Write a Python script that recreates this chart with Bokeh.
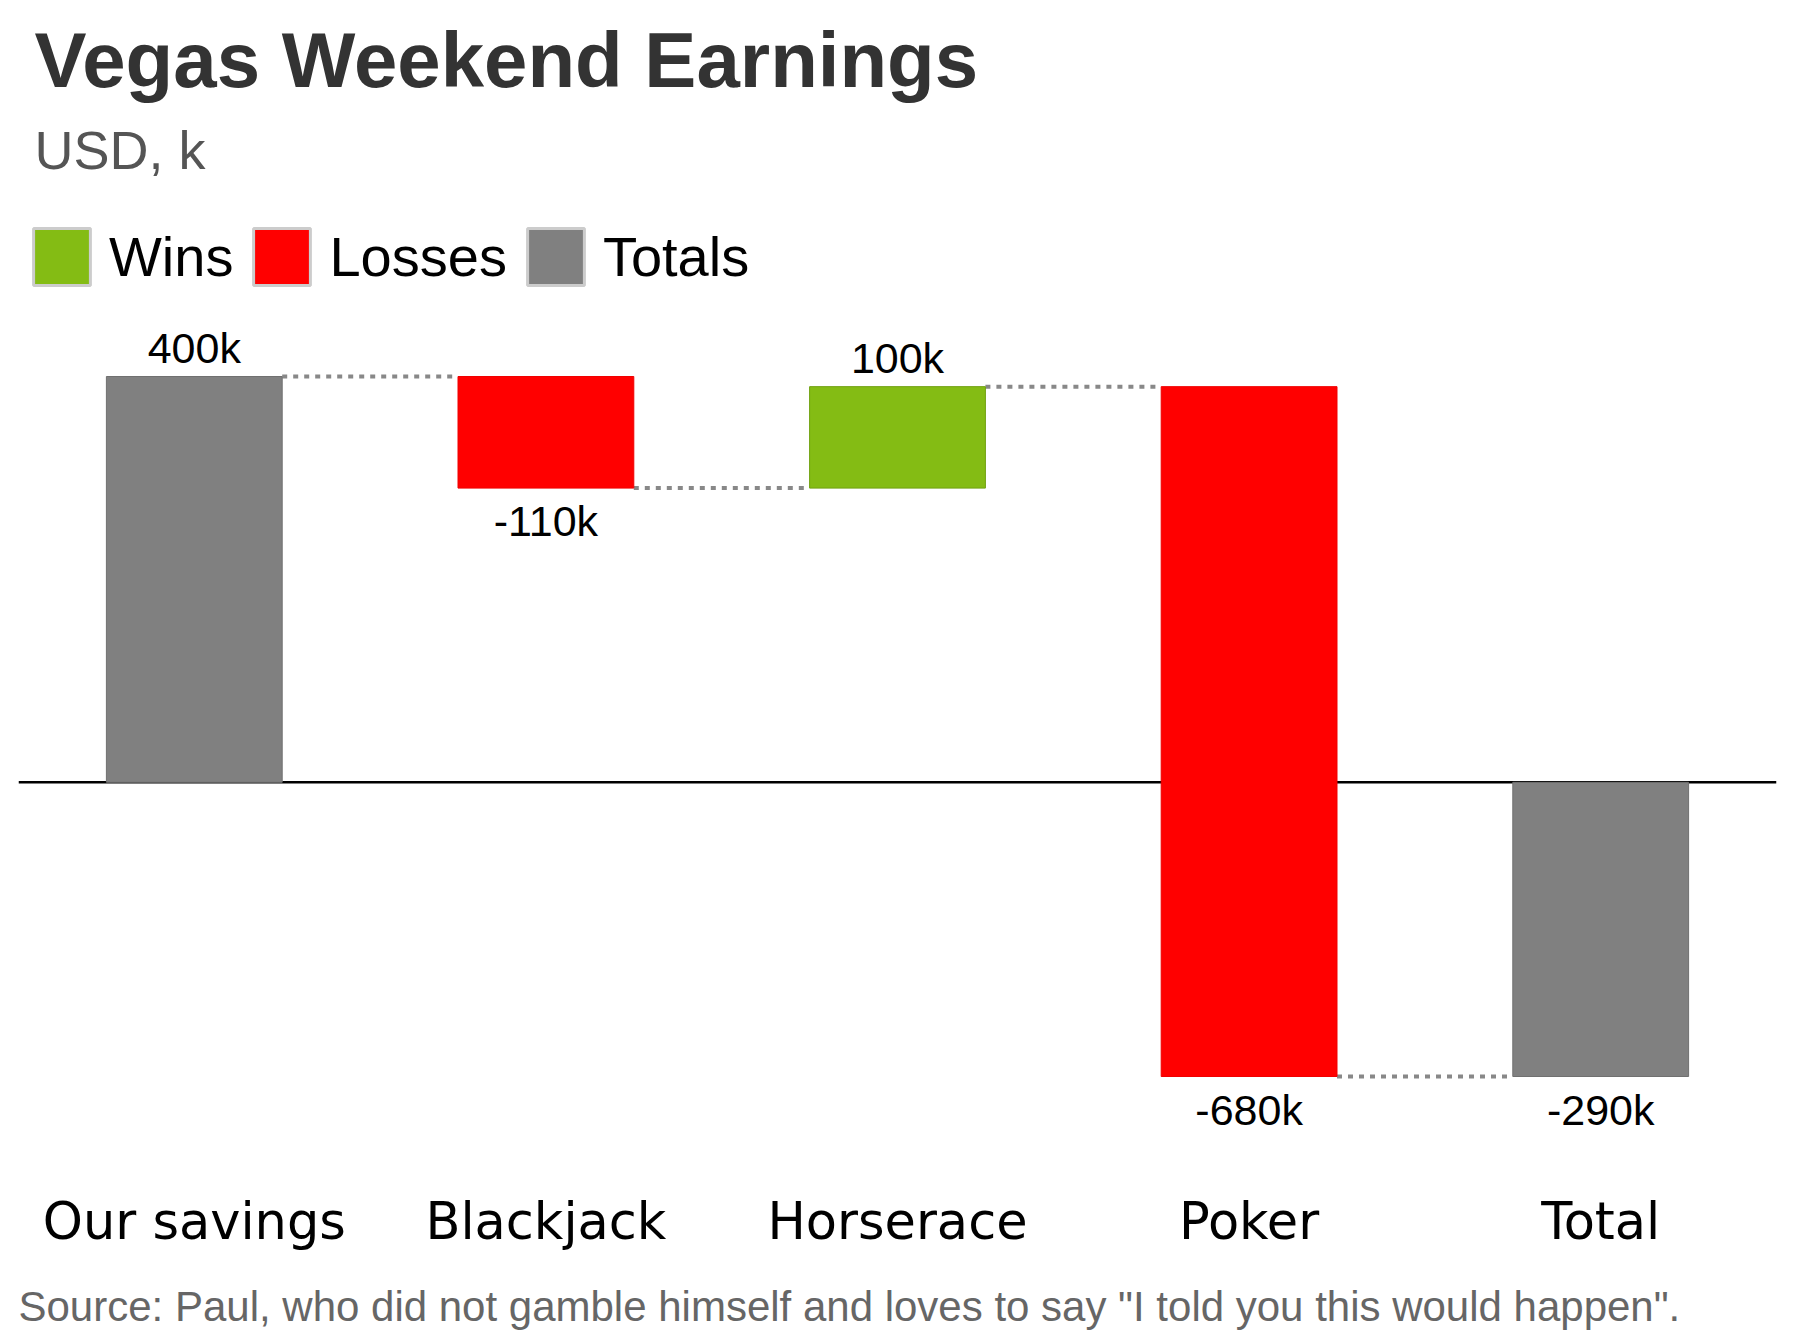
from bokeh.plotting import figure
from bokeh.models import ColumnDataSource, Range1d, Span, Legend, LegendItem, Title, FactorRange
from bokeh.transform import dodge
from bokeh.core.properties import value
from bokeh.embed import file_html
from bokeh.resources import INLINE

# ---- data ----
categories = ["Our savings", "Blackjack", "Horserace", "Poker", "Total"]
values = [400, -110, 100, -680, -290]
kinds = ["Totals", "Losses", "Wins", "Losses", "Totals"]
value_labels = ["400k", "-110k", "100k", "-680k", "-290k"]
legend_names = ["Wins", "Losses", "Totals"]

fill_colors = {"Wins": "#84bc14", "Losses": "#ff0000", "Totals": "#808080"}
line_colors = {"Wins": "#6fa00f", "Losses": "#f00000", "Totals": "#707070"}

# waterfall geometry from the values
bottoms, tops, levels = [], [], []
running = 0
for k, v in zip(kinds, values):
    if k == "Totals":
        b, t = 0, v
        running = v
    else:
        b, t = running, running + v
        running += v
    bottoms.append(min(b, t))
    tops.append(max(b, t))
    levels.append(running)

mids = [(b + t) / 2 for b, t in zip(bottoms, tops)]
label_y = [t if v > 0 else b for v, b, t in zip(values, bottoms, tops)]
label_off = [-29 if v > 0 else 33 for v in values]

src = ColumnDataSource(dict(
    cat=categories, bottom=bottoms, top=tops, mid=mids,
    fill=[fill_colors[k] for k in kinds],
    line=[line_colors[k] for k in kinds],
    ly=label_y, loff=label_off, lab=value_labels,
))
csrc = ColumnDataSource(dict(
    c0=categories[:-1], c1=categories[1:], lvl=levels[:-1],
))

FT, FB = 213, 1150
scale = 700 / 690.0
y_end = 400 + (376 - FT) / scale
y_start = -290 - (FB - 1076) / scale

p = figure(frame_width=1758, frame_height=FB - FT,
           x_range=FactorRange(*categories, range_padding=0),
           y_range=Range1d(y_start, y_end),
           output_backend="svg", toolbar_location=None, title_location=None,
           y_axis_location=None,
           min_border_left=18, min_border_right=2, min_border_top=FT, min_border_bottom=0)
p.outline_line_color = None
p.xgrid.visible = False
p.ygrid.visible = False
p.background_fill_color = "white"
p.border_fill_color = "white"

ax = p.xaxis[0]
ax.axis_line_color = None
ax.major_tick_line_color = None
ax.minor_tick_line_color = None
ax.major_tick_out = 0
ax.major_tick_in = 0
ax.major_label_standoff = 41
ax.major_label_text_font = "DejaVu Sans"
ax.major_label_text_font_size = "51px"
ax.major_label_text_color = "black"

zero = Span(location=0, dimension="width", line_color="black", line_width=2.5, level="underlay")
p.add_layout(zero)

# swatch renderer used only for the legend (zero-size marks hidden behind the bars)
sw = p.vbar(x="cat", bottom="mid", top="mid", width=0, fill_color="fill",
            line_color="#cccccc", line_width=3, source=src, level="underlay")

p.segment(x0=dodge("c0", 0.25, range=p.x_range), y0="lvl",
          x1=dodge("c1", -0.25, range=p.x_range), y1="lvl",
          line_color="#888888", line_width=4, line_dash="5 6", source=csrc)

p.vbar(x="cat", bottom="bottom", top="top", width=0.5,
       fill_color="fill", line_color="line", line_width=1, source=src)

p.text(x="cat", y="ly", text="lab", y_offset="loff",
       text_align="center", text_baseline="alphabetic",
       text_font=value("Liberation Sans"), text_font_size="43px",
       text_color="black", source=src)

items = [LegendItem(label=name, renderers=[sw], index=kinds.index(name)) for name in legend_names]

legend = Legend(items=items, orientation="horizontal", location="top_left",
                glyph_width=71, glyph_height=71, label_standoff=12, spacing=13,
                padding=7, margin=8, border_line_color=None, background_fill_alpha=0,
                label_text_font="Liberation Sans", label_text_font_size="56px",
                label_text_color="black")
p.add_layout(legend, "center")

# above panels: nearest the frame first
gap_top = Title(text=" ", text_font="Liberation Sans", text_font_size="10px", standoff=20)
p.add_layout(gap_top, "above")
sub = Title(text="USD, k", text_font="Liberation Sans", text_font_size="54px",
            text_font_style="normal", text_color="#555555", align="left", offset=16,
            standoff=2)
p.add_layout(sub, "above")
main = Title(text="Vegas Weekend Earnings", text_font="Liberation Sans", text_font_size="78px",
             text_font_style="bold", text_color="#333333", align="left", offset=16,
             standoff=26)
p.add_layout(main, "above")

# below panels: nearest the frame first (axis is already there)
gap_bottom = Title(text=" ", text_font="Liberation Sans", text_font_size="10px", standoff=12)
p.add_layout(gap_bottom, "below")
note = Title(text='Source: Paul, who did not gamble himself and loves to say "I told you this would happen".',
             text_font="Liberation Sans", text_font_size="42px", text_font_style="normal",
             text_color="#666666", align="left", offset=0, standoff=4)
p.add_layout(note, "below")

open("out.html", "w").write(file_html(p, INLINE))
